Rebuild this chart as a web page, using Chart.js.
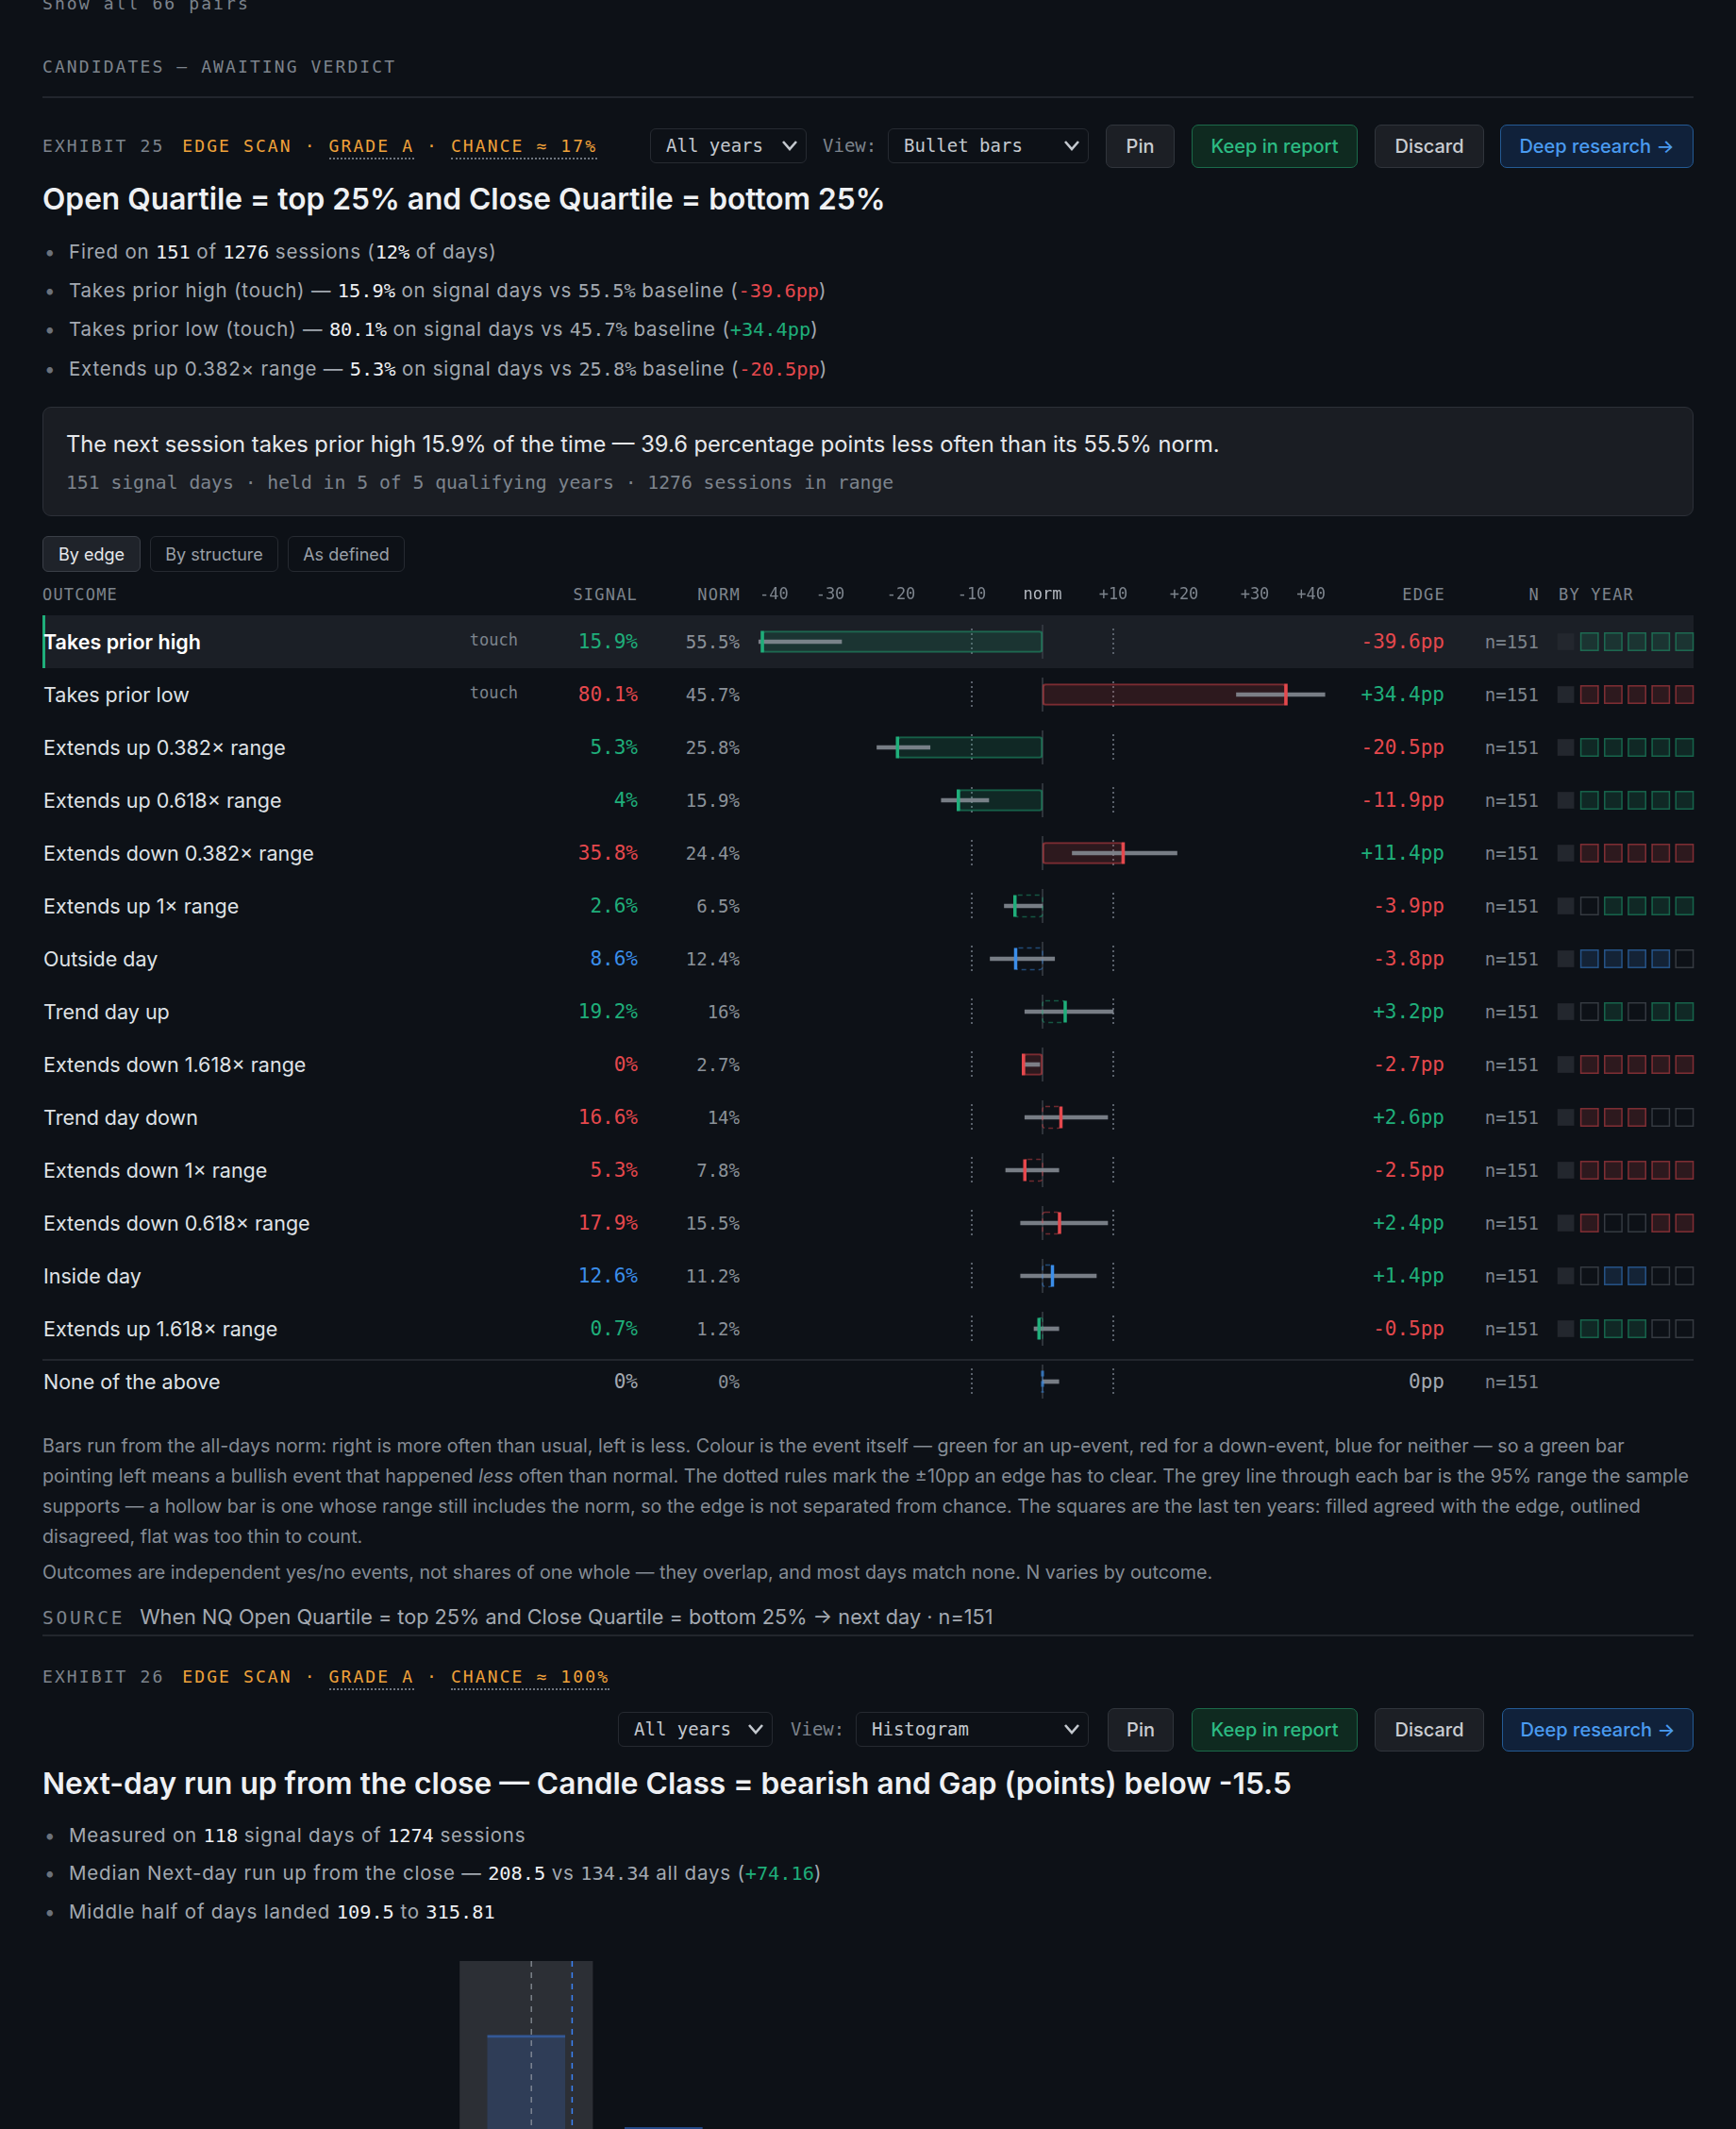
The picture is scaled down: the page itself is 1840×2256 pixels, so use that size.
<!DOCTYPE html>
<html>
<head>
<meta charset="utf-8">
<script src="https://cdn.jsdelivr.net/npm/chart.js@4.4.1/dist/chart.umd.min.js"></script>
<style>
  html, body { margin: 0; background: #0d1117; }
  body { width: 1840px; height: 2256px; position: relative; overflow: hidden;
         font-family: Inter, "Noto Sans", sans-serif; color: #a3a9b1; }
  .abs { position: absolute; white-space: nowrap; }
  .mono { font-family: "DejaVu Sans Mono", "Liberation Mono", monospace; }
  .cap { font-family: "DejaVu Sans Mono", monospace; font-size: 18px; letter-spacing: 2.1px;
         color: #7d848d; line-height: 24px; }
  .amber { color: #f0a23a; }
  .dotu { border-bottom: 2px dotted #6f767f; padding-bottom: 2px; }
  .rule { position: absolute; left: 45px; width: 1750px; height: 2px; background: #22262d; }
  .title { font-weight: 600; font-size: 31.7px; color: #eef0f3; line-height: 40px; left: 45px; }
  .bul { left: 45px; font-size: 20.5px; letter-spacing: 0.8px; line-height: 30px; color: #a3a9b1; }
  .bul .dot { display: inline-block; width: 28px; color: #6b727b; padding-left: 2px; box-sizing: border-box; letter-spacing: 0; }
  .w { color: #eef0f3; }
  .m { font-family: "DejaVu Sans Mono", monospace; font-size: 20.3px; letter-spacing: 0; }
  .red { color: #e5484d; } .green { color: #1fae7a; } .blue { color: #3b8eea; }
  .sel { position: absolute; height: 37px; box-sizing: border-box; border: 1.5px solid #262a31;
         border-radius: 6px; font-family: "DejaVu Sans Mono", monospace; font-size: 19px;
         color: #c3c8ce; padding-left: 16px; line-height: 34px; }
  .sel svg { position: absolute; right: 8px; top: 11px; }
  .lbl { position: absolute; font-family: "DejaVu Sans Mono", monospace; font-size: 19px;
         color: #7d848d; line-height: 37px; }
  .btn { position: absolute; height: 46px; box-sizing: border-box; border: 1.5px solid #30353c;
         background: #1c1f25; border-radius: 7px; font-size: 20px; font-weight: 500; color: #c9ccd1;
         display: flex; align-items: center; justify-content: center; }
  .btn.keep { border-color: #1b6a4a; background: #0f2a20; color: #2cbb83; }
  .btn.deep { border-color: #245a94; background: #10213a; color: #4a9bf0; }
  .callout { position: absolute; left: 45px; top: 431px; width: 1750px; height: 116px; box-sizing: border-box;
             background: #1a1d23; border: 1.5px solid #2c3038; border-radius: 9px; }
  .tab { position: absolute; top: 568px; height: 38px; box-sizing: border-box; border: 1.5px solid #262a31;
         border-radius: 6px; font-size: 18px; color: #9aa0a8; display: flex; align-items: center; justify-content: center; }
  .tab.on { background: #1f232a; border-color: #3a3f47; color: #e6e8eb; }
  .th { position: absolute; top: 612px; line-height: 36px; font-family: "DejaVu Sans Mono", monospace;
        font-size: 17px; letter-spacing: 1.2px; color: #7d848d; }
  .row { position: absolute; left: 45px; width: 1750px; height: 56px; }
  .row.hi { background: #1b1f26; }
  .row.hi::before { content: ""; position: absolute; left: 0; top: 0; width: 3px; height: 56px; background: #1fae7a; }
  .row.last::after { content: ""; position: absolute; left: 0; top: 4px; width: 1750px; height: 2px; background: #22262d; }
  .cell { position: absolute; top: 0; line-height: 56px; }
  .c-name { left: 1px; font-size: 21.5px; color: #dfe2e6; }
  .row.hi .c-name { color: #ffffff; font-weight: 600; }
  .c-kind { font-family: "DejaVu Sans Mono", monospace; font-size: 17px; color: #7d848d; line-height: 52px; }
  .c-sig { font-family: "DejaVu Sans Mono", monospace; font-size: 21px; }
  .c-norm { font-family: "DejaVu Sans Mono", monospace; font-size: 19px; color: #8b9199; }
  .c-edge { font-family: "DejaVu Sans Mono", monospace; font-size: 21px; }
  .c-n { font-family: "DejaVu Sans Mono", monospace; font-size: 19px; color: #7d848d; }
  .note { position: absolute; left: 45px; width: 1752px; font-size: 19.7px; line-height: 32px; color: #858c95; white-space: normal; }
  canvas { position: absolute; }
</style>
</head>
<body>

<div class="abs cap" style="left:45px; top:-8px;">Show all 66 pairs</div>
<div class="abs cap" style="left:45px; top:59px;">CANDIDATES — AWAITING VERDICT</div>
<div class="rule" style="top:102px;"></div>

<div class="abs cap" style="left:45px; top:143px;">EXHIBIT 25 <span class="amber" style="margin-left:6px;">EDGE SCAN</span><span class="amber"> · </span><span class="amber dotu">GRADE A</span><span class="amber"> · </span><span class="amber dotu">CHANCE ≈ 17%</span></div>
<div id="ctl25"></div>

<div class="abs title" style="top:191px;">Open Quartile = top 25% and Close Quartile = bottom 25%</div>
<div class="abs bul" style="top:252px;"><span class="dot">•</span>Fired on <span class="m w">151</span> of <span class="m w">1276</span> sessions (<span class="m w">12%</span> of days)</div>
<div class="abs bul" style="top:293px;"><span class="dot">•</span>Takes prior high (touch) — <span class="m w">15.9%</span> on signal days vs <span class="m">55.5%</span> baseline (<span class="m red">-39.6pp</span>)</div>
<div class="abs bul" style="top:334px;"><span class="dot">•</span>Takes prior low (touch) — <span class="m w">80.1%</span> on signal days vs <span class="m">45.7%</span> baseline (<span class="m green">+34.4pp</span>)</div>
<div class="abs bul" style="top:376px;"><span class="dot">•</span>Extends up 0.382× range — <span class="m w">5.3%</span> on signal days vs <span class="m">25.8%</span> baseline (<span class="m red">-20.5pp</span>)</div>

<div class="callout">
  <div class="abs" style="left:24px; top:23px; font-size:23.7px; line-height:32px; color:#e6e8eb;">The next session takes prior high 15.9% of the time — 39.6 percentage points less often than its 55.5% norm.</div>
  <div class="abs mono" style="left:24px; top:67px; font-size:19.7px; line-height:26px; color:#7d848d;">151 signal days · held in 5 of 5 qualifying years · 1276 sessions in range</div>
</div>

<div class="tab on" style="left:45px; width:104px;">By edge</div>
<div class="tab" style="left:159px; width:136px;">By structure</div>
<div class="tab" style="left:305px; width:124px;">As defined</div>

<div class="th" style="left:45px;">OUTCOME</div>
<div class="th" style="right:1164px;">SIGNAL</div>
<div class="th" style="right:1055px;">NORM</div>
<div class="th" style="right:308px;">EDGE</div>
<div class="th" style="right:208px;">N</div>
<div class="th" style="left:1652px;">BY YEAR</div>

<div id="rows"></div>
<canvas id="edgeChart" width="640" height="880" style="left:785px; top:612px;"></canvas>
<canvas id="yearChart" width="151" height="840" style="left:1647px; top:652px;"></canvas>

<div class="note" style="top:1516px;">Bars run from the all-days norm: right is more often than usual, left is less. Colour is the event itself — green for an up-event, red for a down-event, blue for neither — so a green bar pointing left means a bullish event that happened <em>less</em> often than normal. The dotted rules mark the ±10pp an edge has to clear. The grey line through each bar is the 95% range the sample supports — a hollow bar is one whose range still includes the norm, so the edge is not separated from chance. The squares are the last ten years: filled agreed with the edge, outlined disagreed, flat was too thin to count.</div>
<div class="note" style="top:1650px;">Outcomes are independent yes/no events, not shares of one whole — they overlap, and most days match none. N varies by outcome.</div>
<div class="abs" style="left:45px; top:1698px; line-height:30px; font-size:21.7px; color:#a3a9b1;"><span class="mono" style="font-size:19.5px; letter-spacing:2.8px; color:#7d848d; margin-right:16px;">SOURCE</span>When NQ Open Quartile = top 25% and Close Quartile = bottom 25% → next day · n=151</div>
<div class="rule" style="top:1732px;"></div>

<div class="abs cap" style="left:45px; top:1765px;">EXHIBIT 26 <span class="amber" style="margin-left:6px;">EDGE SCAN</span><span class="amber"> · </span><span class="amber dotu">GRADE A</span><span class="amber"> · </span><span class="amber dotu">CHANCE ≈ 100%</span></div>
<div id="ctl26"></div>

<div class="abs title" style="top:1870px;">Next-day run up from the close — Candle Class = bearish and Gap (points) below -15.5</div>
<div class="abs bul" style="top:1930px;"><span class="dot">•</span>Measured on <span class="m w">118</span> signal days of <span class="m w">1274</span> sessions</div>
<div class="abs bul" style="top:1970px;"><span class="dot">•</span>Median Next-day run up from the close — <span class="m w">208.5</span> vs <span class="m">134.34</span> all days (<span class="m green">+74.16</span>)</div>
<div class="abs bul" style="top:2011px;"><span class="dot">•</span>Middle half of days landed <span class="m w">109.5</span> to <span class="m w">315.81</span></div>

<canvas id="histChart" width="1310" height="300" style="left:485px; top:2078px;"></canvas>

<script>
// exhibit 25 — edge scan rows
const outcomes = ['Takes prior high', 'Takes prior low', 'Extends up 0.382× range', 'Extends up 0.618× range',
  'Extends down 0.382× range', 'Extends up 1× range', 'Outside day', 'Trend day up', 'Extends down 1.618× range',
  'Trend day down', 'Extends down 1× range', 'Extends down 0.618× range', 'Inside day', 'Extends up 1.618× range',
  'None of the above'];
const kinds     = ['touch', 'touch', '', '', '', '', '', '', '', '', '', '', '', '', ''];
const eventType = ['up', 'down', 'up', 'up', 'down', 'up', 'neither', 'up', 'down', 'down', 'down', 'down', 'neither', 'up', 'none'];
const signalPct = [15.9, 80.1, 5.3, 4, 35.8, 2.6, 8.6, 19.2, 0, 16.6, 5.3, 17.9, 12.6, 0.7, 0];
const normPct   = [55.5, 45.7, 25.8, 15.9, 24.4, 6.5, 12.4, 16, 2.7, 14, 7.8, 15.5, 11.2, 1.2, 0];
const edgePP    = [-39.6, 34.4, -20.5, -11.9, 11.4, -3.9, -3.8, 3.2, -2.7, 2.6, -2.5, 2.4, 1.4, -0.5, 0];
const ciLow     = [-40.1, 27.4, -23.4, -14.3, 4.2, -5.4, -7.4, -2.5, -2.8, -2.5, -5.2, -3.1, -3.1, -1.2, 0];
const ciHigh    = [-28.4, 39.9, -15.9, -7.6, 19.0, 0, 1.7, 10.0, -0.4, 9.2, 2.3, 9.2, 7.6, 2.3, 2.3];
const sampleN   = [151, 151, 151, 151, 151, 151, 151, 151, 151, 151, 151, 151, 151, 151, 151];
// F = flat, A = agreed, D = disagreed
const yearMarks = ['FAAAAA', 'FAAAAA', 'FAAAAA', 'FAAAAA', 'FAAAAA', 'FDAAAA', 'FAAAAD', 'FDADAA',
  'FAAAAA', 'FAAADD', 'FAAAAA', 'FADDAA', 'FDAADD', 'FAAADD', ''];
const edgeTicks = [-40, -30, -20, -10, 0, 10, 20, 30, 40];

// exhibit 26 — histogram
const binStart      = [0, 250, 500, 750, 1000, 1250, 1500, 1750, 2000];
const binWidth      = 250;
const signalShare   = [57.6, 32.2, 6.8, 1.7, 0.8, 0.9, 0, 0, 0];
const allDaysShare  = [77.9, 15.5, 4.6, 1.2, 0.5, 0.2, 0.1, 0, 0];
const signalMedian  = 208.5;
const allDaysMedian = 134.34;

const MONO = '"DejaVu Sans Mono", monospace';
const RGB = { up: '31,174,122', down: '229,72,77', neither: '59,142,234', none: '59,142,234' };
const TXT = { up: '#1fae7a', down: '#e5484d', neither: '#3b8eea', none: '#a3a9b1' };
const rgba = (t, a) => 'rgba(' + RGB[t] + ',' + a + ')';
const isHollow = i => ciLow[i] <= 0 && ciHigh[i] >= 0;

// controls
const chev = '<svg width="18" height="13" viewBox="0 0 18 13"><polyline points="2,2 9,10 16,2" fill="none" stroke="#c3c8ce" stroke-width="2.6"/></svg>';
function controls(id, top, c) {
  const el = document.getElementById(id);
  el.innerHTML =
    '<div class="sel" style="left:' + c[0] + 'px;width:' + c[1] + 'px;top:' + (top + 4) + 'px">All years' + chev + '</div>' +
    '<div class="lbl" style="left:' + c[2] + 'px;top:' + (top + 4) + 'px">View:</div>' +
    '<div class="sel" style="left:' + c[3] + 'px;width:' + c[4] + 'px;top:' + (top + 4) + 'px">' + c[5] + chev + '</div>' +
    '<div class="btn" style="left:' + c[6] + 'px;width:' + c[7] + 'px;top:' + top + 'px">Pin</div>' +
    '<div class="btn keep" style="left:1263px;width:176px;top:' + top + 'px">Keep in report</div>' +
    '<div class="btn" style="left:1457px;width:116px;top:' + top + 'px">Discard</div>' +
    '<div class="btn deep" style="left:' + c[8] + 'px;width:' + (1795 - c[8]) + 'px;top:' + top + 'px">Deep research →</div>';
}
controls('ctl25', 132, [689, 166, 872, 941, 213, 'Bullet bars', 1172, 73, 1590]);
controls('ctl26', 1810, [655, 164, 838, 907, 247, 'Histogram', 1174, 70, 1592]);

// table rows
const rowsEl = document.getElementById('rows');
const fmtEdge = v => v > 0 ? '+' + v + 'pp' : v + 'pp';
outcomes.forEach((name, i) => {
  const r = document.createElement('div');
  r.className = 'row' + (i === 0 ? ' hi' : '') + (i === outcomes.length - 1 ? ' last' : '');
  r.style.top = (652 + 56 * i) + 'px';
  const edgeCol = edgePP[i] > 0 ? '#1fae7a' : edgePP[i] < 0 ? '#e5484d' : '#a3a9b1';
  r.innerHTML =
    '<span class="cell c-name">' + name + '</span>' +
    '<span class="cell c-kind" style="right:1246px">' + kinds[i] + '</span>' +
    '<span class="cell c-sig" style="right:1119px;color:' + TXT[eventType[i]] + '">' + signalPct[i] + '%</span>' +
    '<span class="cell c-norm" style="right:1011px">' + normPct[i] + '%</span>' +
    '<span class="cell c-edge" style="right:264px;color:' + edgeCol + '">' + fmtEdge(edgePP[i]) + '</span>' +
    '<span class="cell c-n" style="right:164px">n=' + sampleN[i] + '</span>';
  rowsEl.appendChild(r);
});

// per-row norm line and ±10pp rules
const rulesPlugin = {
  id: 'rules',
  beforeDatasetsDraw(chart) {
    const { ctx, scales: { x, y } } = chart;
    ctx.save();
    outcomes.forEach((_, i) => {
      const cy = y.getPixelForValue(i);
      ctx.setLineDash([]);
      ctx.strokeStyle = '#3a3f47';
      ctx.lineWidth = 1.5;
      ctx.beginPath();
      ctx.moveTo(x.getPixelForValue(0), cy - 18);
      ctx.lineTo(x.getPixelForValue(0), cy + 18);
      ctx.stroke();
      ctx.setLineDash([2, 3]);
      ctx.strokeStyle = '#59606a';
      ctx.lineWidth = 2;
      [-10, 10].forEach(v => {
        ctx.beginPath();
        ctx.moveTo(x.getPixelForValue(v), cy - 14);
        ctx.lineTo(x.getPixelForValue(v), cy + 14);
        ctx.stroke();
      });
    });
    ctx.restore();
  },
  afterDatasetsDraw(chart) {
    const { ctx, scales: { x, y } } = chart;
    const meta = chart.getDatasetMeta(1);
    ctx.save();
    outcomes.forEach((_, i) => {
      const t = eventType[i];
      const cy = y.getPixelForValue(i);
      if (isHollow(i)) {
        const el = meta.data[i];
        const p = el.getProps(['x', 'base', 'height'], true);
        const l = Math.min(p.x, p.base), w = Math.abs(p.x - p.base);
        ctx.setLineDash([5, 4]);
        ctx.strokeStyle = rgba(t, 0.45);
        ctx.lineWidth = 1.5;
        ctx.beginPath();
        ctx.roundRect(l, cy - p.height / 2, w, p.height, 3);
        ctx.stroke();
      }
      // signal marker at the end of the bar
      const mx = x.getPixelForValue(edgePP[i]);
      ctx.setLineDash(edgePP[i] === 0 ? [6, 5] : []);
      ctx.strokeStyle = rgba(t, edgePP[i] === 0 ? 0.55 : 1);
      ctx.lineWidth = 3.5;
      ctx.beginPath();
      ctx.moveTo(mx, cy - 11.5);
      ctx.lineTo(mx, cy + 11.5);
      ctx.stroke();
    });
    ctx.restore();
  }
};

new Chart(document.getElementById('edgeChart'), {
  type: 'bar',
  data: {
    labels: outcomes,
    datasets: [
      {
        label: '95% range',
        data: ciLow.map((lo, i) => [lo, ciHigh[i]]),
        backgroundColor: 'rgba(139,145,153,0.85)',
        barThickness: 4,
        grouped: false,
        order: 1,
        clip: false
      },
      {
        label: 'edge',
        data: edgePP.map(v => [0, v]),
        backgroundColor: edgePP.map((_, i) => isHollow(i) ? 'transparent' : rgba(eventType[i], 0.15)),
        borderColor: edgePP.map((_, i) => isHollow(i) ? 'transparent' : rgba(eventType[i], 0.5)),
        borderWidth: edgePP.map((_, i) => isHollow(i) ? 0 : 1.5),
        borderRadius: 3,
        borderSkipped: false,
        barThickness: 23,
        grouped: false,
        order: 2,
        clip: false
      }
    ]
  },
  options: {
    indexAxis: 'y',
    responsive: false,
    animation: false,
    events: [],
    layout: { padding: { left: 20, right: 20, top: 0, bottom: 0 } },
    plugins: { legend: { display: false }, tooltip: { enabled: false } },
    scales: {
      x: {
        position: 'top',
        min: edgeTicks[0],
        max: edgeTicks[edgeTicks.length - 1],
        grid: { display: false, drawTicks: false },
        border: { display: false },
        afterBuildTicks: s => { s.ticks = edgeTicks.map(v => ({ value: v })); },
        afterFit: s => { s.height = 40; },
        ticks: {
          align: 'inner',
          padding: 11,
          autoSkip: false,
          maxRotation: 0,
          color: c => c.tick && c.tick.value === 0 ? '#b4b9c0' : '#7d848d',
          font: { family: MONO, size: 17 },
          callback: v => v === 0 ? 'norm' : (v > 0 ? '+' + v : String(v))
        }
      },
      y: { display: false }
    }
  },
  plugins: [rulesPlugin]
});

// by-year squares
const yearPoints = [];
yearMarks.forEach((marks, i) => {
  marks.split('').forEach((m, k) => yearPoints.push({ x: k, y: i, mark: m, t: eventType[i] }));
});
new Chart(document.getElementById('yearChart'), {
  type: 'scatter',
  data: {
    datasets: [{
      data: yearPoints,
      pointStyle: 'rect',
      pointRadius: c => c.raw.mark === 'F' ? 12.5 : 13,
      backgroundColor: c => c.raw.mark === 'F' ? '#23272e' : c.raw.mark === 'A' ? rgba(c.raw.t, 0.15) : 'transparent',
      borderColor: c => c.raw.mark === 'F' ? 'transparent' : c.raw.mark === 'A' ? rgba(c.raw.t, 0.5) : '#353a41',
      borderWidth: c => c.raw.mark === 'F' ? 0 : 1.5,
      clip: false
    }]
  },
  options: {
    responsive: false,
    animation: false,
    events: [],
    layout: { padding: 0, autoPadding: false },
    plugins: { legend: { display: false }, tooltip: { enabled: false } },
    scales: {
      x: { display: false, min: -0.5, max: 5.5 },
      y: { display: false, min: -0.5, max: outcomes.length - 0.5, reverse: true }
    }
  }
});

// histogram
const medianPlugin = {
  id: 'medians',
  afterDatasetsDraw(chart) {
    const { ctx, chartArea: a, scales: { x } } = chart;
    ctx.save();
    ctx.lineWidth = 1.5;
    ctx.setLineDash([6, 6]);
    [[allDaysMedian, 'rgba(150,156,165,0.75)'], [signalMedian, '#3b82f6']].forEach(([v, col]) => {
      ctx.strokeStyle = col;
      ctx.beginPath();
      ctx.moveTo(x.getPixelForValue(v), a.top);
      ctx.lineTo(x.getPixelForValue(v), a.bottom);
      ctx.stroke();
    });
    ctx.restore();
  }
};
new Chart(document.getElementById('histChart'), {
  type: 'bar',
  data: {
    datasets: [
      {
        label: 'All days',
        data: binStart.map((b, i) => ({ x: b + binWidth / 2, y: allDaysShare[i] })),
        backgroundColor: '#2c2f35',
        categoryPercentage: 1,
        barPercentage: 0.97,
        grouped: false,
        order: 2
      },
      {
        label: 'Signal days',
        data: binStart.map((b, i) => ({ x: b + binWidth / 2, y: signalShare[i] })),
        backgroundColor: 'rgba(59,130,246,0.18)',
        borderColor: 'rgba(59,130,246,0.5)',
        borderWidth: { top: 3, left: 0, right: 0, bottom: 0 },
        borderSkipped: 'bottom',
        categoryPercentage: 1,
        barPercentage: 0.57,
        grouped: false,
        order: 1
      }
    ]
  },
  options: {
    responsive: false,
    animation: false,
    events: [],
    layout: { padding: 0 },
    plugins: { legend: { display: false }, tooltip: { enabled: false } },
    scales: {
      x: { type: 'linear', display: false, offset: false, min: binStart[0], max: binStart[binStart.length - 1] + binWidth },
      y: { display: false, min: 0, max: Math.max(...allDaysShare) }
    }
  },
  plugins: [medianPlugin]
});
</script>
</body>
</html>
